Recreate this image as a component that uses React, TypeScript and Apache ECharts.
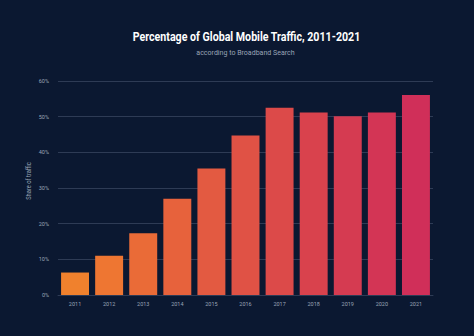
import React, { useEffect, useRef } from "react";
import * as echarts from "echarts";

const years = ["2011", "2012", "2013", "2014", "2015", "2016", "2017", "2018", "2019", "2020", "2021"];
const shares = [6.3, 11.0, 17.3, 27.0, 35.5, 44.7, 52.5, 51.2, 50.1, 51.2, 56.1];
const barColors = [
  "#F0812D", "#EE7632", "#EA6B37", "#E7623C", "#E35A41", "#E05245",
  "#DC4A49", "#D9424D", "#D53B51", "#D33555", "#D02F59",
];
const yTicks = [0, 10, 20, 30, 40, 50, 60];
const titleText = "Percentage of Global Mobile Traffic, 2011-2021";
const subtitleText = "according to Broadband Search";
const yAxisTitle = "Share of traffic";

export default function App() {
  const ref = useRef<HTMLDivElement>(null);
  useEffect(() => {
    if (!ref.current) return;
    document.body.style.margin = "0";
    const chart = echarts.init(ref.current, null, { renderer: "svg" });
    chart.setOption({
      animation: false,
      backgroundColor: "#0B1831",
      graphic: [
        {
          type: "text",
          x: 246.5,
          y: 37,
          scaleX: 0.82,
          style: {
            text: titleText,
            fill: "#FFFFFF",
            fontSize: 13,
            fontWeight: "bold",
            fontFamily: "Roboto",
            align: "center",
            verticalAlign: "middle",
          },
        },
        {
          type: "text",
          x: 245.5,
          y: 52,
          scaleX: 0.94,
          style: {
            text: subtitleText,
            fill: "#9AA4B6",
            fontSize: 7.5,
            fontFamily: "Roboto",
            align: "center",
            verticalAlign: "middle",
          },
        },
        {
          type: "text",
          x: 29,
          y: 181,
          rotation: Math.PI / 2,
          scaleX: 0.72,
          style: {
            text: yAxisTitle,
            fill: "#9AA4B6",
            fontSize: 8,
            fontFamily: "Roboto",
            align: "center",
            verticalAlign: "middle",
          },
        },
      ],
      grid: { left: 58, right: 41, top: 81, bottom: 41 },
      xAxis: {
        type: "category",
        data: years,
        axisLine: { lineStyle: { color: "#2E3B55" } },
        axisTick: { show: false },
        axisLabel: { color: "#9AA4B6", fontSize: 5.5, margin: 6, fontFamily: "Roboto" },
      },
      yAxis: {
        type: "value",
        min: yTicks[0],
        max: yTicks[yTicks.length - 1],
        interval: 10,
        axisLabel: { color: "#9AA4B6", fontSize: 5.5, margin: 9, formatter: "{value}%", fontFamily: "Roboto" },
        splitLine: { lineStyle: { color: "#2E3B55", width: 1 } },
        axisLine: { show: false },
        axisTick: { show: false },
      },
      series: [
        {
          type: "bar",
          barCategoryGap: "18%",
          data: shares.map((v, i) => ({ value: v, itemStyle: { color: barColors[i] } })),
        },
      ],
    });
    return () => chart.dispose();
  }, []);
  return <div ref={ref} style={{ width: 474, height: 336 }} />;
}
